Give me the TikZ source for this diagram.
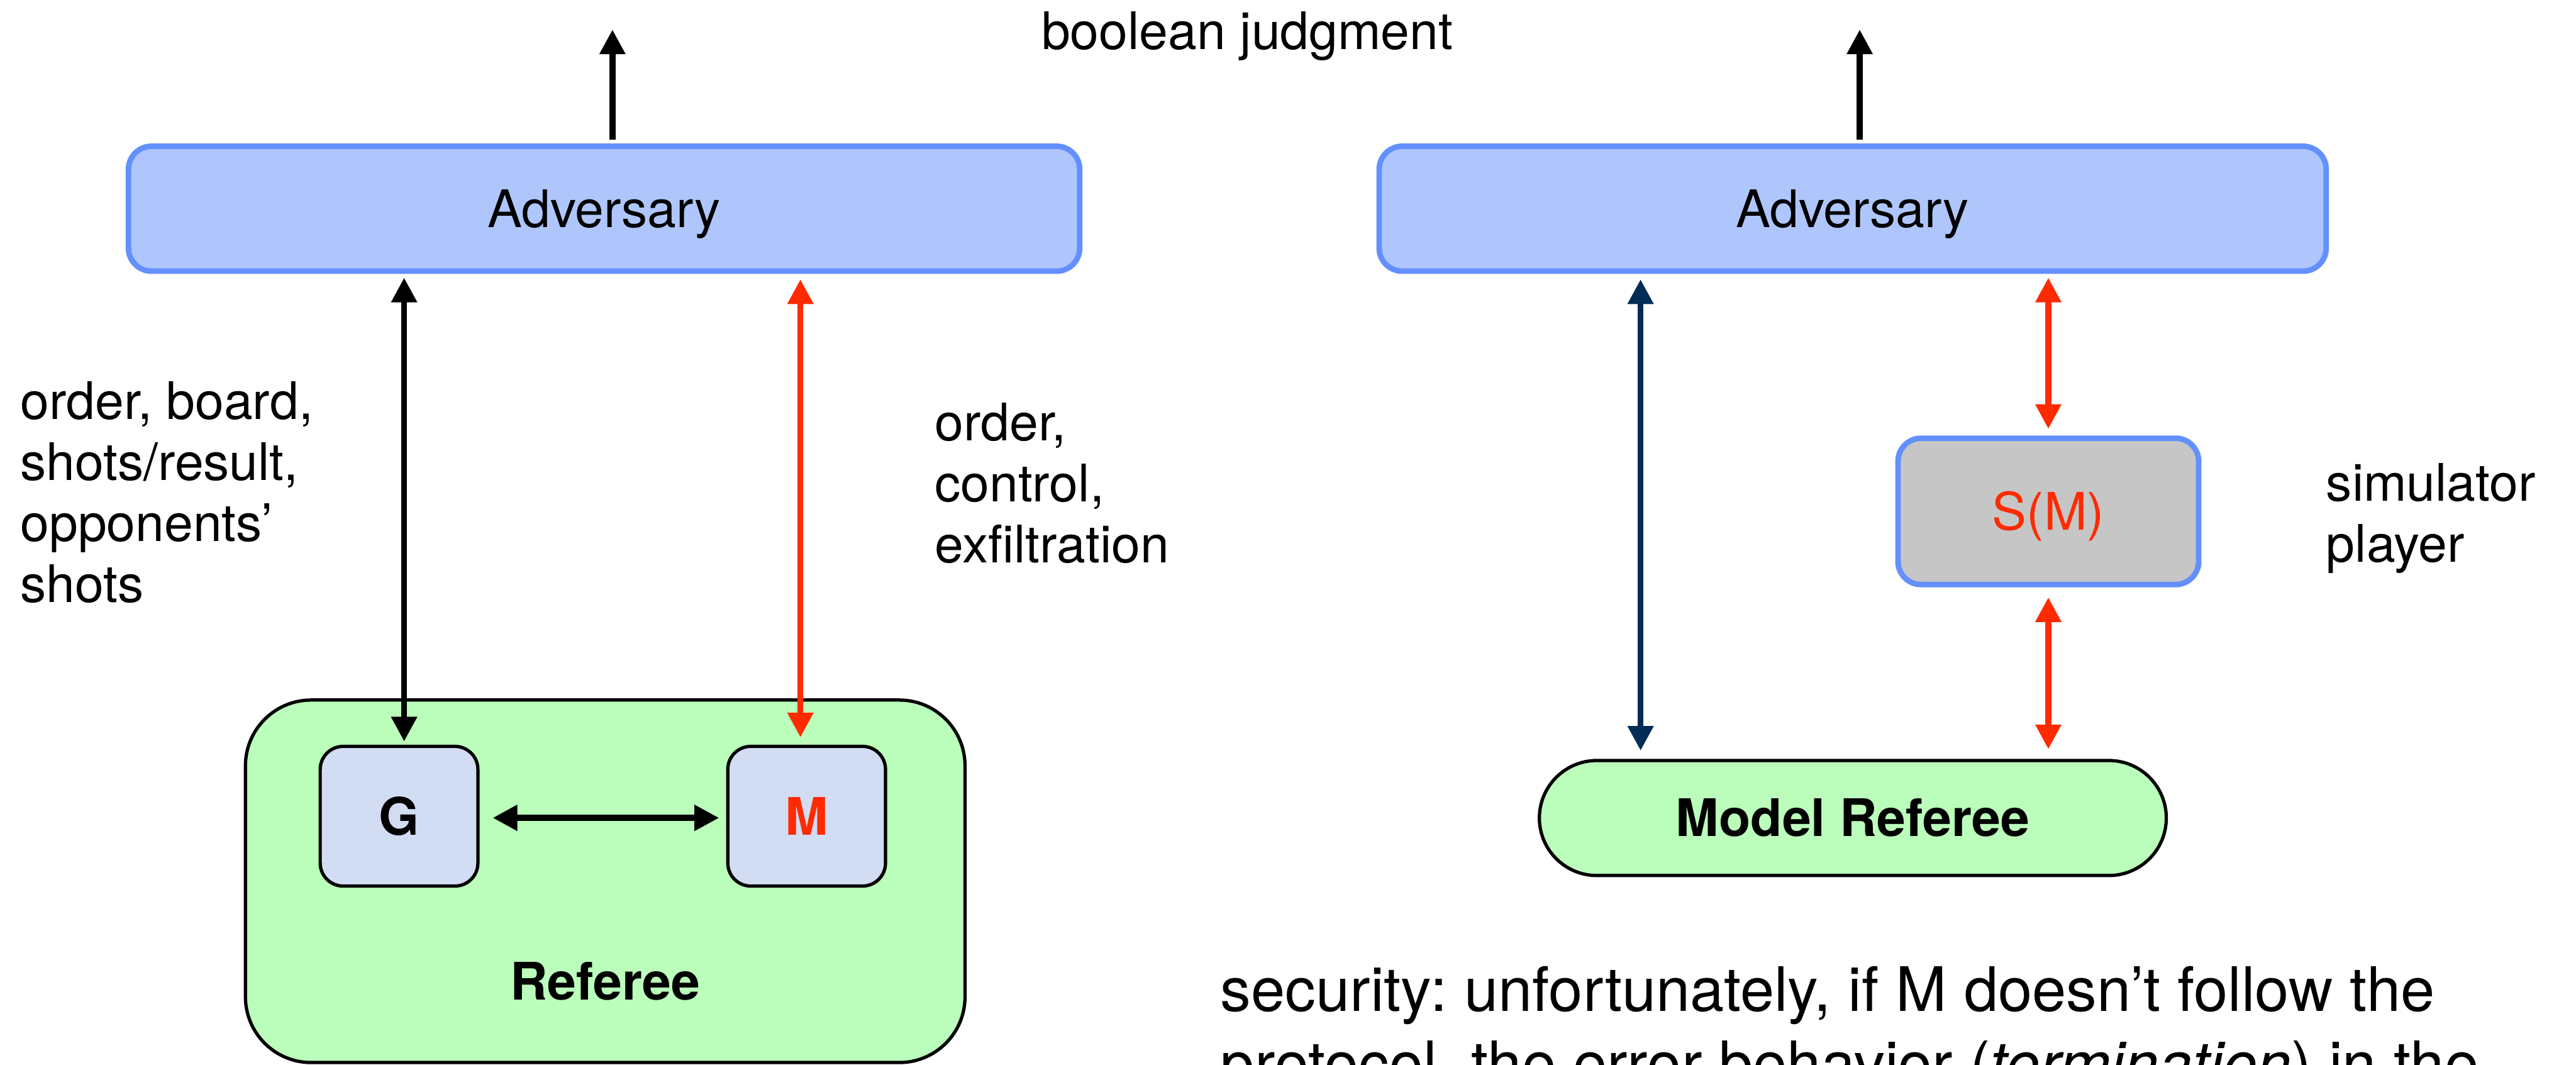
\documentclass[tikz,border=0pt]{standalone}
\usepackage{fontspec}
\setmainfont{TeX Gyre Heros}
\usetikzlibrary{arrows.meta}
\frenchspacing

\definecolor{advfill}{HTML}{AFC6FD}
\definecolor{advline}{HTML}{6490FD}
\definecolor{reffill}{HTML}{BBFDBB}
\definecolor{subfill}{HTML}{D2DCF3}
\definecolor{simfill}{HTML}{C6C6C6}
\definecolor{hotred}{HTML}{FF2A00}
\definecolor{navyblue}{HTML}{012C55}

\tikzset{
  every node/.style={font=\fontsize{31.5}{37.2}\selectfont, inner sep=0pt, outer sep=0pt},
  box/.style={rounded corners=14pt, text height=22.6pt, text depth=0pt},
  advbox/.style={box, draw=advline, fill=advfill, line width=3.4pt, minimum height=76pt},
  subbox/.style={box, draw=black, fill=subfill, line width=2pt, minimum width=96pt, minimum height=85pt},
  simbox/.style={box, draw=advline, fill=simfill, line width=3.4pt, minimum width=183pt, minimum height=89pt},
  refbox/.style={draw=black, fill=reffill, line width=2pt},
  lbl/.style={anchor=base west},
  arr/.style={line width=3.6pt, -{Triangle[width=15pt,length=15pt]}},
  darr/.style={line width=3.6pt, {Triangle[width=15pt,length=15pt]}-{Triangle[width=15pt,length=15pt]}}
}

\begin{document}
\begin{tikzpicture}[x=1pt,y=-1pt]
\useasboundingbox (0,0) rectangle (1568,648);
\clip (0,0) rectangle (1568,648);

% ---------- left: real game ----------
\node[advbox, minimum width=579pt] (advL) at (367.7,127) {Adversary};

\node[refbox, rounded corners=40pt, minimum width=438pt, minimum height=220.6pt] (ref) at (368.4,536.3) {};
\node[anchor=base, font=\fontsize{31.5}{37.2}\selectfont\bfseries] (refTxt) at (368.4,608.5) {Referee};

\node[subbox] (G) at (242.9,496.7) {\bfseries G};
\node[subbox] (M) at (491,496.7) {\bfseries\color{hotred}M};

\coordinate (outL) at (372.8,18);
\coordinate (xG) at (246,0);
\coordinate (xM) at (487.2,0);

\draw[arr, shorten <=4pt] (advL.north -| outL) -- (outL);
\draw[darr, shorten <=4pt, shorten >=3pt] (advL.south -| xG) -- (G.north -| xG);
\draw[darr, draw=hotred, fill=hotred, shorten <=5pt, shorten >=5.5pt] (advL.south -| xM) -- (M.north -| xM);
\draw[darr, shorten <=9pt, shorten >=5.3pt] ([yshift=-1pt]G.east) -- ([yshift=-1pt]M.west);

\node[lbl] (lblGame) at (12.5,255)
  {\vtop{\hbox{order, board,}\hbox{shots/result,}\hbox{opponents’}\hbox{shots}}};
\node[lbl] (lblModel) at (569,268)
  {\vtop{\hbox{order,}\hbox{control,}\hbox{exfiltration}}};

\node[lbl] (judg) at (634,30) {boolean judgment};

% ---------- right: simulated game ----------
\node[advbox, minimum width=576.4pt] (advR) at (1127.7,127) {Adversary};

\node[simbox] (S) at (1246.8,311.2) {\color{hotred}S(M)};

\node[refbox, box, rounded corners=35pt, minimum width=381.6pt, minimum height=70pt] (mref) at (1127.8,497.8) {\bfseries Model Referee};

\coordinate (outR) at (1132,18);
\coordinate (xN) at (998.6,0);

\draw[arr, shorten <=4pt] (advR.north -| outR) -- (outR);
\draw[darr, draw=navyblue, fill=navyblue, shorten <=5pt, shorten >=6pt] (advR.south -| xN) -- (mref.north -| xN);
\draw[darr, draw=hotred, fill=hotred, shorten <=4pt, shorten >=5.7pt] (advR.south -| S) -- (S.north);
\draw[darr, draw=hotred, fill=hotred, shorten <=7.8pt, shorten >=6.9pt] (S.south) -- (mref.north -| S);

\node[lbl] (lblSim) at (1416,305) {\vtop{\hbox{simulator}\hbox{player}}};

\node[lbl, font=\fontsize{37.3}{45.2}\selectfont] (note) at (743,615.4)
  {\vtop{\hbox{security: unfortunately, if M doesn’t follow the}\hbox{protocol, the error behavior (\textit{termination}) in the}}};
\end{tikzpicture}
\end{document}
